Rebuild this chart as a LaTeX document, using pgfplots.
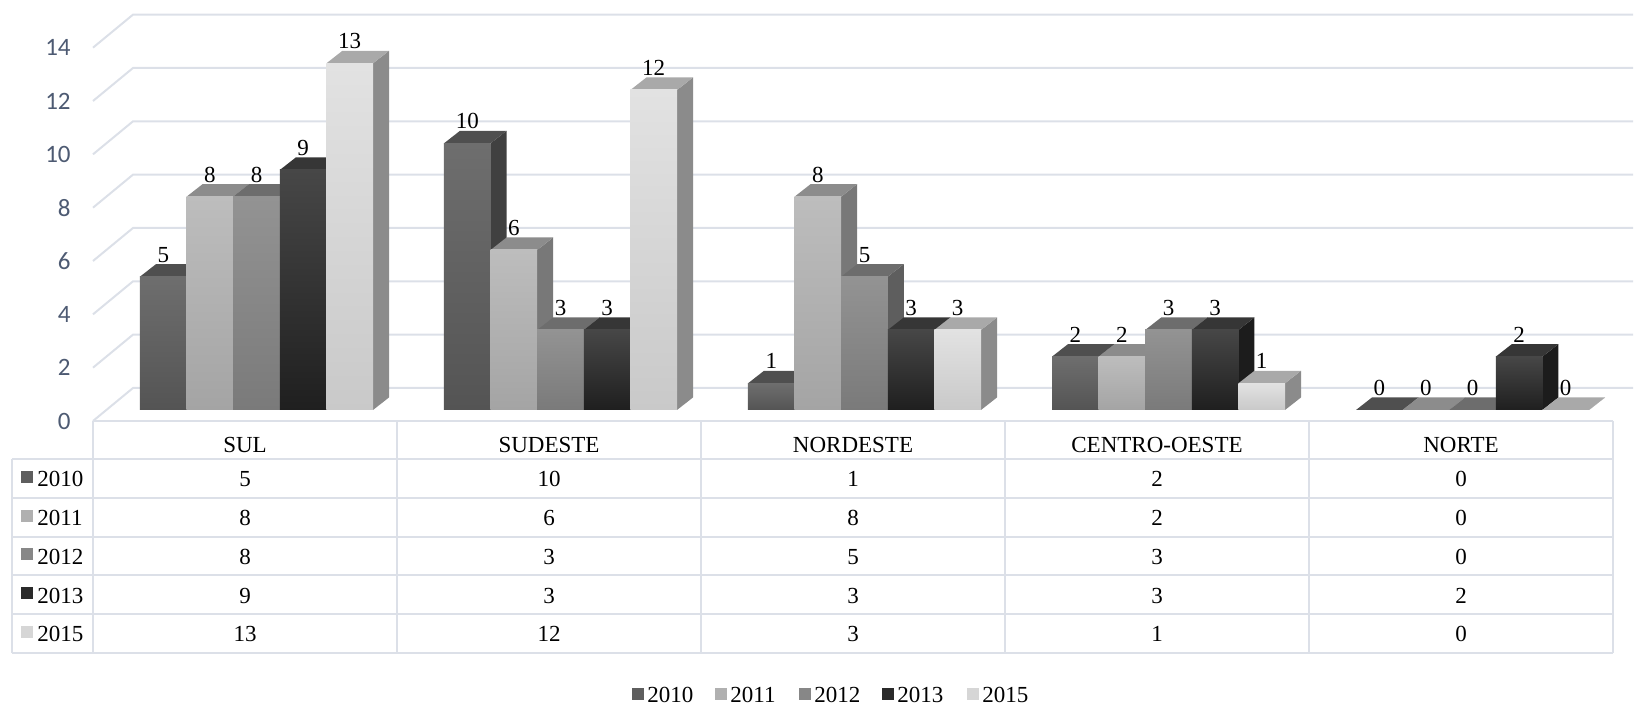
\documentclass[border=0pt]{standalone}
\usepackage{pgfplots}
\pgfplotsset{compat=1.18}
\usepackage{pgfplotstable}
\usepackage{fontspec}
\setmainfont{Liberation Serif}
\newfontfamily\tickfont{Carlito}

\definecolor{gridc}{HTML}{DCE0E8}
\definecolor{tickc}{HTML}{4D5A72}
% 2010
\definecolor{c10hi}{HTML}{6E6E6E}\definecolor{c10lo}{HTML}{545454}
\definecolor{c10top}{HTML}{4F4F4F}\definecolor{c10side}{HTML}{404040}
\definecolor{c10key}{HTML}{5E5E5E}
% 2011
\definecolor{c11hi}{HTML}{BDBDBD}\definecolor{c11lo}{HTML}{A4A4A4}
\definecolor{c11top}{HTML}{8C8C8C}\definecolor{c11side}{HTML}{787878}
\definecolor{c11key}{HTML}{B0B0B0}
% 2012
\definecolor{c12hi}{HTML}{939393}\definecolor{c12lo}{HTML}{7A7A7A}
\definecolor{c12top}{HTML}{6D6D6D}\definecolor{c12side}{HTML}{5E5E5E}
\definecolor{c12key}{HTML}{878787}
% 2013
\definecolor{c13hi}{HTML}{474747}\definecolor{c13lo}{HTML}{1F1F1F}
\definecolor{c13top}{HTML}{363636}\definecolor{c13side}{HTML}{1C1C1C}
\definecolor{c13key}{HTML}{2A2A2A}
% 2015
\definecolor{c15hi}{HTML}{E2E2E2}\definecolor{c15lo}{HTML}{C9C9C9}
\definecolor{c15top}{HTML}{A9A9A9}\definecolor{c15side}{HTML}{8B8B8B}
\definecolor{c15key}{HTML}{D6D6D6}

\pgfplotstableread{
cat y2010 y2011 y2012 y2013 y2015
0 5 8 8 9 13
1 10 6 3 3 12
2 1 8 5 3 3
3 2 2 3 3 1
4 0 0 0 2 0
}\data

\newcommand\tabfont{\fontsize{11.5}{13}\selectfont}

% #1 category index, #2 series index, #3 column, #4 colour prefix
\newcommand\barfaces[4]{%
  \pgfplotstablegetelem{#1}{#3}\of\data
  \pgfmathsetmacro\val{\pgfplotsretval}%
  \pgfmathsetmacro\xl{#1+(#2-2.5)*0.1533}%
  \pgfmathsetmacro\xr{\xl+0.1533}%
  \pgfmathsetmacro\xlb{\xl+0.0526}%
  \pgfmathsetmacro\xrb{\xr+0.0526}%
  \pgfmathsetmacro\ytb{\val+0.47}%
  \addplot[fill=#4side, draw=none, forget plot] coordinates {(\xr,0) (\xrb,0.47) (\xrb,\ytb) (\xr,\val)} -- cycle;
  \addplot[fill=#4top, draw=none, forget plot] coordinates {(\xl,\val) (\xr,\val) (\xrb,\ytb) (\xlb,\ytb)} -- cycle;
  \ifdim\val pt>0pt
  \addplot[top color=#4hi, bottom color=#4lo, draw=none, forget plot] coordinates {(\xl,0) (\xr,0) (\xr,\val) (\xl,\val)} -- cycle;
  \fi
}

\begin{document}
\begin{tikzpicture}
\path[use as bounding box] (0,0) rectangle (817.5pt,353pt);
% back wall grid (pixel coordinates)
\begin{scope}[x=0.5pt,y=-0.5pt,yshift=353pt]
  \foreach \v in {0,2,...,14} {
    \draw[gridc, line width=1pt] (93,{421-26.667*\v}) -- (133,{388-26.667*\v}) -- (1633,{388-26.667*\v});
  }
\end{scope}

\begin{axis}[at={(0,0)}, anchor=south west, scale only axis,
  width=817.5pt, height=353pt,
  xmin=-0.84375, xmax=4.53454, ymin=-11.1, ymax=15.375,
  hide axis, clip=false,
  /pgf/number format/assume math mode=true,
  lbl/.style={draw=none, forget plot, nodes near coords,
    nodes near coords style={anchor=base, inner sep=0pt, yshift=7.25pt, font=\tabfont, text=black}}]

  \pgfplotsinvokeforeach{0,...,4}{\barfaces{#1}{0}{y2010}{c10}}
  \addplot[lbl] table[x expr=\thisrow{cat}-0.3066, y=y2010]\data;
  \pgfplotsinvokeforeach{0,...,4}{\barfaces{#1}{1}{y2011}{c11}}
  \addplot[lbl] table[x expr=\thisrow{cat}-0.1533, y=y2011]\data;
  \pgfplotsinvokeforeach{0,...,4}{\barfaces{#1}{2}{y2012}{c12}}
  \addplot[lbl] table[x expr=\thisrow{cat}, y=y2012]\data;
  \pgfplotsinvokeforeach{0,...,4}{\barfaces{#1}{3}{y2013}{c13}}
  \addplot[lbl] table[x expr=\thisrow{cat}+0.1533, y=y2013]\data;
  \pgfplotsinvokeforeach{0,...,4}{\barfaces{#1}{4}{y2015}{c15}}
  \addplot[lbl] table[x expr=\thisrow{cat}+0.3066, y=y2015]\data;
\end{axis}

\begin{scope}[x=0.5pt,y=-0.5pt,yshift=353pt]
  % y tick labels
  \foreach \v in {0,2,...,14} {
    \node[anchor=east, inner sep=0pt, font=\tickfont\fontsize{12.5}{14}\selectfont, text=tickc] at (71,{421-26.667*\v}) {\v};
  }
  % data table
  \draw[gridc, line width=1pt] (93,421) -- (1613,421);
  \foreach \k in {0,...,5} {
    \draw[gridc, line width=1pt] (12,{459.3+38.7*\k}) -- (1613,{459.3+38.7*\k});
    \draw[gridc, line width=1pt] ({93+304*\k},421) -- ({93+304*\k},652.8);
  }
  \draw[gridc, line width=1pt] (12,459.3) -- (12,652.8);
  \foreach \n [count=\k from 0] in {SUL,SUDESTE,NORDESTE,CENTRO-OESTE,NORTE} {
    \node[anchor=base, inner sep=0pt, font=\tabfont] at ({245+304*\k},453) {\n};
  }
  \foreach \col/\yr/\c [count=\r from 0] in {y2010/2010/c10key,y2011/2011/c11key,y2012/2012/c12key,y2013/2013/c13key,y2015/2015/c15key} {
    \fill[\c] (21,{487+38.7*\r-16}) rectangle (33,{487+38.7*\r-4});
    \node[anchor=base west, inner sep=0pt, font=\tabfont] at (37,{487+38.7*\r}) {\yr};
    \foreach \k in {0,...,4} {
      \pgfplotstablegetelem{\k}{\col}\of\data
      \node[anchor=base, inner sep=0pt, font=\tabfont] at ({245+304*\k},{487+38.7*\r}) {\pgfplotsretval};
    }
  }
  % bottom legend
  \foreach \x/\yr/\c in {632/2010/c10key,715/2011/c11key,799/2012/c12key,882/2013/c13key,967/2015/c15key} {
    \fill[\c] (\x,688) rectangle ({\x+12},700);
    \node[anchor=base west, inner sep=0pt, font=\tabfont] at ({\x+15},703) {\yr};
  }
\end{scope}
\end{tikzpicture}
\end{document}
